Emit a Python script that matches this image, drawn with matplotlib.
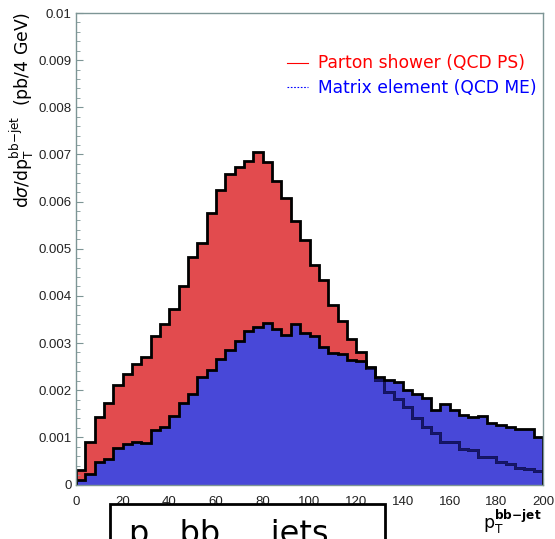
import numpy as np
import matplotlib.pyplot as plt
from matplotlib.lines import Line2D
from matplotlib.patches import Rectangle
from matplotlib.ticker import MultipleLocator, FuncFormatter

# 4 GeV bins from 0 to 200 GeV
edges = np.arange(0, 204, 4)

# Parton shower (QCD PS), in units of 1e-3 pb / 4 GeV
ps = np.array([0.31, 0.90, 1.43, 1.72, 2.10, 2.35, 2.55, 2.70, 3.14, 3.41,
               3.73, 4.22, 4.82, 5.13, 5.75, 6.24, 6.59, 6.74, 6.87, 7.05,
               6.84, 6.44, 6.07, 5.59, 5.19, 4.66, 4.34, 3.81, 3.47, 3.08,
               2.80, 2.47, 2.22, 1.97, 1.81, 1.64, 1.40, 1.23, 1.10, 0.91,
               0.91, 0.75, 0.73, 0.58, 0.58, 0.48, 0.43, 0.36, 0.32, 0.29]) * 1e-3

# Matrix element (QCD ME)
me = np.array([0.09, 0.22, 0.47, 0.55, 0.78, 0.86, 0.90, 0.88, 1.15, 1.23,
               1.45, 1.72, 1.93, 2.28, 2.43, 2.67, 2.85, 3.05, 3.25, 3.33,
               3.43, 3.29, 3.17, 3.40, 3.22, 3.14, 2.91, 2.79, 2.76, 2.65,
               2.62, 2.50, 2.27, 2.22, 2.18, 2.00, 1.92, 1.83, 1.57, 1.71,
               1.57, 1.47, 1.44, 1.46, 1.30, 1.26, 1.23, 1.18, 1.18, 1.01]) * 1e-3

labels = ["Parton shower (QCD PS)", "Matrix element (QCD ME)"]

W, H = 555, 539
red = '#e24b4e'
blue = '#4848d8'
axcol = '#7d9595'

fig = plt.figure(figsize=(W / 100, H / 100), dpi=100)
ax = fig.add_axes([76 / W, 1 - 484.5 / H, 467 / W, 471.5 / H])

ax.stairs(ps, edges, fill=True, color=red, zorder=1)
ax.stairs(me, edges, fill=True, color=blue, zorder=2)
ax.stairs(ps, edges, color='black', lw=2, zorder=3)
# part of the PS outline that lies inside the ME area looks dark blue
top = np.argmax(ps)
k0 = top + np.argmax(ps[top:] <= me[top:])
ax.stairs(ps[k0:], edges[k0:], baseline=None, color='#16166a', lw=2, zorder=3.5)
ax.stairs(me, edges, color='black', lw=2, zorder=4)

ax.set_xlim(0, 200)
ax.set_ylim(0, 0.01)
ax.xaxis.set_major_locator(MultipleLocator(20))
ax.xaxis.set_minor_locator(MultipleLocator(4))
ax.yaxis.set_major_locator(MultipleLocator(0.001))
ax.yaxis.set_minor_locator(MultipleLocator(0.0002))
ax.yaxis.set_major_formatter(FuncFormatter(lambda v, p: '0' if abs(v) < 1e-12 else f'{v:g}'))
ax.tick_params(which='both', direction='in', color=axcol, labelsize=9.5,
               labelcolor='#222222')
ax.tick_params(which='major', length=5)
ax.tick_params(which='minor', length=3)
ax.tick_params(axis='x', pad=8)
ax.tick_params(axis='y', pad=3)
for lab in ax.get_xticklabels() + ax.get_yticklabels():
    lab.set_fontfamily('Liberation Sans')
for s in ax.spines.values():
    s.set_color(axcol)
    s.set_linewidth(1)
    s.set_zorder(5)

handles = [Line2D([], [], color='red', lw=0.8),
           Line2D([], [], color='blue', lw=0.8, ls=(0, (1.5, 1.5)))]
leg = ax.legend(handles, labels, loc='upper left', bbox_to_anchor=(0.452, 0.912),
                frameon=False, fontsize=12.3, handlelength=1.2, handletextpad=0.6,
                labelspacing=0.38, borderpad=0, borderaxespad=0)
leg.get_texts()[0].set_color('red')
leg.get_texts()[1].set_color('blue')

fig.text(22 / W, 1 - 12 / H, r'd$\sigma$/dp$_\mathrm{T}^\mathrm{bb{-}jet}$  (pb/4 GeV)',
         rotation=90, ha='center', va='top', fontsize=12.4)
fig.text(542 / W, 1 - 529 / H, r'p$_\mathrm{T}^\mathbf{bb{-}jet}$',
         ha='right', va='baseline', fontsize=12.5)

# box from the slide overlapping the bottom of the plot
fig.patches.append(Rectangle((110 / W, -0.1), 275 / W, 0.1 + 1 - 504.5 / H,
                             transform=fig.transFigure, fill=False, ec='black',
                             lw=2, zorder=10))
fig.text(129 / W, 1 - 543 / H, 'p   bb     jets', fontsize=23, va='baseline', ha='left')

fig.savefig('out.png', dpi=100)
